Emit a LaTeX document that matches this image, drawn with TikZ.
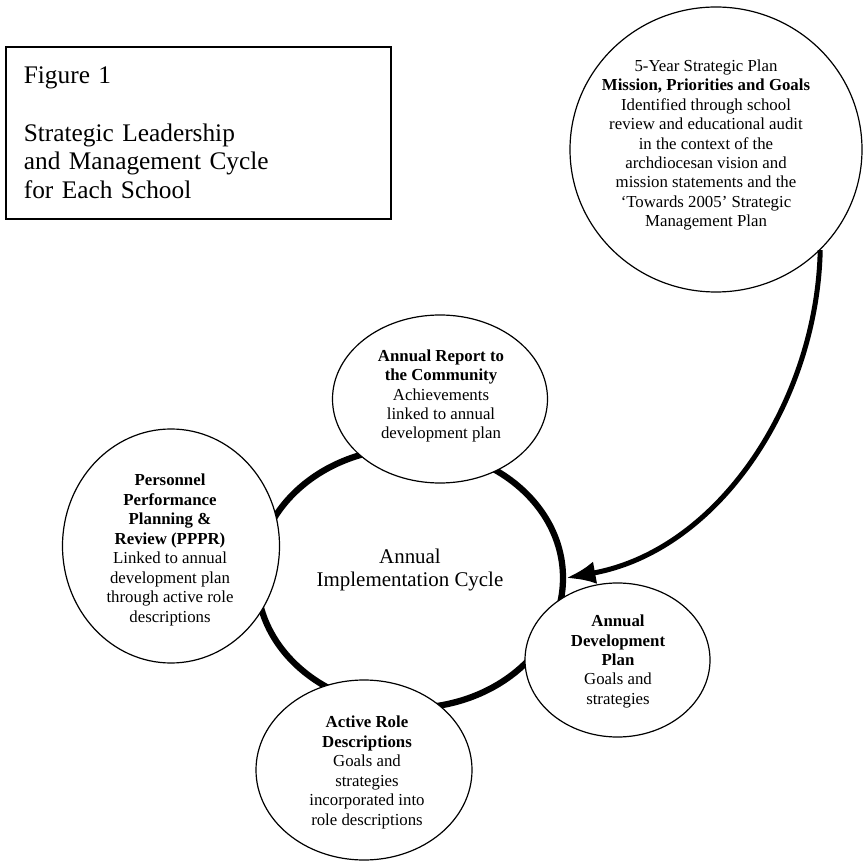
\documentclass[tikz,border=0pt]{standalone}
\usepackage{fontspec}
\setmainfont{Liberation Serif}
\usetikzlibrary{shapes.geometric,arrows.meta}

\begin{document}
\begin{tikzpicture}[x=0.75pt, y=-0.75pt,
  bubble/.style={ellipse, draw, line width=0.9pt, fill=white, inner sep=0pt},
  bubbletext/.style={align=center, inner sep=0pt, font=\fontsize{12.6}{14.6}\selectfont},
  feed/.style={-{Latex[length=22pt, width=17pt]}, line width=3.75pt}]
\useasboundingbox (0,0) rectangle (864,862);

\node[draw, line width=1.3pt, anchor=north west, minimum width=288.75pt, minimum height=129pt,
  text width=261.75pt, inner xsep=13.5pt, align=left, font=\fontsize{19}{21.5}\selectfont] (title) at (5,46)
  {Figure 1\\[21.5pt]Strategic Leadership\\and Management Cycle\\for Each School};

% the annual cycle
\node[ellipse, draw, line width=4.7pt, minimum width=229.5pt, minimum height=195pt] (cycle) at (410,578) {};
\node[align=center, inner sep=0pt, font=\fontsize{15.7}{17.8}\selectfont] (cyclename) at (410,570)
  {Annual\\Implementation Cycle};

% bubbles round the cycle
\node[bubble, minimum width=161.25pt, minimum height=126pt] (report) at (440,399) {};
\node[bubbletext] (reporttext) at (441,396)
  {\textbf{Annual Report to}\\\textbf{the Community}\\Achievements\\linked to annual\\development plan};

\node[bubble, minimum width=162.75pt, minimum height=175.5pt] (pppr) at (171,546) {};
\node[bubbletext] (ppprtext) at (170,550)
  {\textbf{Personnel}\\\textbf{Performance}\\\textbf{Planning \&}\\\textbf{Review (PPPR)}\\Linked to annual\\development plan\\through active role\\descriptions};

\node[bubble, minimum width=138.75pt, minimum height=115.5pt] (devplan) at (617.5,660) {};
\node[bubbletext] (devplantext) at (618,661.5)
  {\textbf{Annual}\\\textbf{Development}\\\textbf{Plan}\\Goals and\\strategies};

\node[bubble, minimum width=162pt, minimum height=135pt] (roles) at (364,770) {};
\node[bubbletext] (rolestext) at (367,772.5)
  {\textbf{Active Role}\\\textbf{Descriptions}\\Goals and\\strategies\\incorporated into\\role descriptions};

% five-year plan
\node[bubble, minimum width=219pt, minimum height=213.75pt] (mission) at (716,149.5) {};
\node[bubbletext] (missiontext) at (706,145)
  {5-Year Strategic Plan\\\textbf{Mission, Priorities and Goals}\\Identified through school\\review and educational audit\\in the context of the\\archdiocesan vision and\\mission statements and the\\`Towards 2005' Strategic\\Management Plan};

\draw[feed] (mission.-44) .. controls (817,400) and (720,550) .. (cycle.east);
\end{tikzpicture}
\end{document}
